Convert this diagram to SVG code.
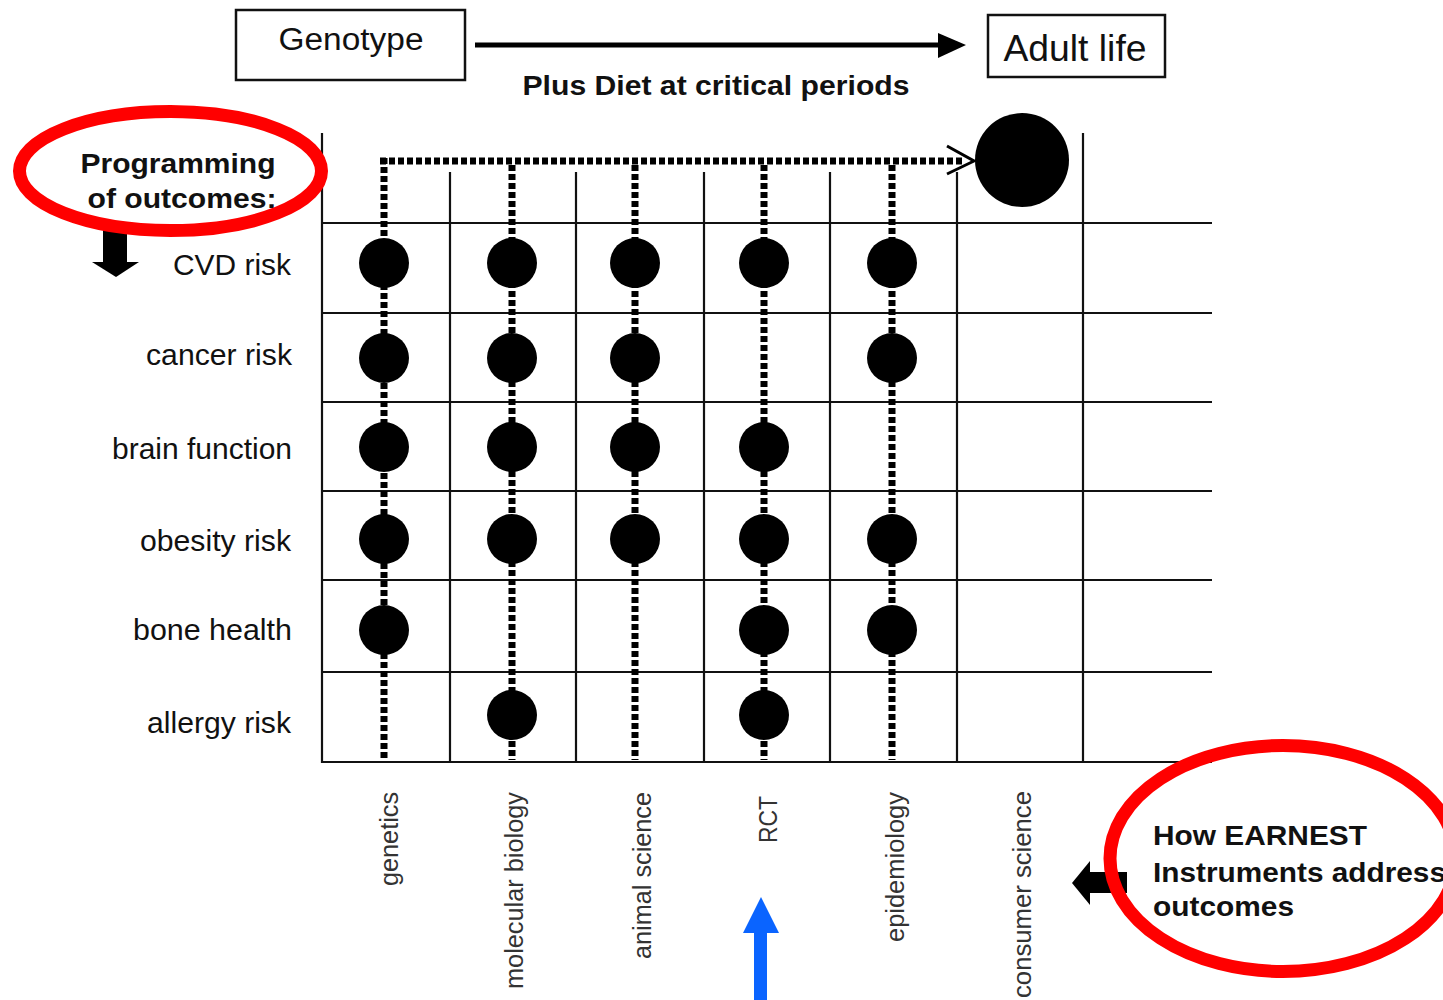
<svg xmlns="http://www.w3.org/2000/svg" width="1443" height="1000" viewBox="0 0 1443 1000">
<style>
  text { font-family: "Liberation Sans", Arial, sans-serif; fill: #111; }
  .box { fill: #fff; stroke: #111; stroke-width: 2.5; }
  .grid line { stroke: #111; stroke-width: 2.2; }
  .dot { stroke: #000; stroke-width: 7; stroke-dasharray: 6 3; fill: none; }
  .lbl { font-size: 29px; text-anchor: end; }
  .col { font-size: 26px; text-anchor: end; fill: #333; }
  .bold { font-weight: bold; }
  .red { fill: none; stroke: #ff0000; stroke-width: 13; }
</style>

<!-- Top boxes -->
<g id="genotype">
  <rect class="box" x="236" y="10" width="229" height="70"/>
  <text x="351" y="50" font-size="31" text-anchor="middle" textLength="145" lengthAdjust="spacingAndGlyphs">Genotype</text>
</g>
<g id="adult-life">
  <rect class="box" x="988" y="15" width="177" height="62"/>
  <text x="1075" y="61" font-size="36" text-anchor="middle" textLength="143" lengthAdjust="spacingAndGlyphs">Adult life</text>
</g>
<g id="diet-label">
  <text class="bold" x="716" y="95" font-size="28" text-anchor="middle" textLength="387" lengthAdjust="spacingAndGlyphs">Plus Diet at critical periods</text>
</g>

<!-- Grid -->
<g id="grid" class="grid">
  <line x1="322" y1="133" x2="322" y2="763"/>
  <line x1="450" y1="172" x2="450" y2="762"/>
  <line x1="576" y1="172" x2="576" y2="762"/>
  <line x1="704" y1="172" x2="704" y2="762"/>
  <line x1="830" y1="172" x2="830" y2="762"/>
  <line x1="957" y1="172" x2="957" y2="762"/>
  <line x1="1083" y1="133" x2="1083" y2="762"/>
  <line x1="321" y1="223" x2="1212" y2="223"/>
  <line x1="321" y1="313" x2="1212" y2="313"/>
  <line x1="321" y1="402" x2="1212" y2="402"/>
  <line x1="321" y1="491" x2="1212" y2="491"/>
  <line x1="321" y1="580" x2="1212" y2="580"/>
  <line x1="321" y1="672" x2="1212" y2="672"/>
  <line x1="321" y1="762" x2="1212" y2="762"/>
</g>

<!-- Connectors -->
<g id="connectors">
  <line x1="475" y1="45" x2="942" y2="45" stroke="#000" stroke-width="5"/>
  <polygon points="938,33 966,45 938,58" fill="#000"/>
  <line class="dot" x1="380" y1="161" x2="964" y2="161"/>
  <polyline points="947,146 974,161 947,174" fill="none" stroke="#000" stroke-width="3"/>
  <line class="dot" x1="384" y1="158" x2="384" y2="760"/>
  <line class="dot" x1="512" y1="165" x2="512" y2="760"/>
  <line class="dot" x1="635" y1="165" x2="635" y2="760"/>
  <line class="dot" x1="764" y1="165" x2="764" y2="760"/>
  <line class="dot" x1="892" y1="165" x2="892" y2="760"/>
  <!-- down arrow -->
  <rect x="103" y="228" width="24" height="36" fill="#000"/>
  <polygon points="92,262 139,262 116,277" fill="#000"/>
  <!-- left arrow -->
  <rect x="1087" y="872" width="40" height="21" fill="#000"/>
  <polygon points="1090,861 1090,905 1072,883" fill="#000"/>
  <!-- blue arrow -->
  <rect x="754" y="930" width="13" height="70" fill="#0a64ff"/>
  <polygon points="743,933 761,897 779,933" fill="#0a64ff"/>
</g>

<!-- Adult life outcome -->
<g id="adult-outcome">
  <circle cx="1022" cy="160" r="47" fill="#000"/>
</g>

<!-- Dots -->
<g id="dots" fill="#000">
  <circle cx="384" cy="263" r="25"/><circle cx="512" cy="263" r="25"/><circle cx="635" cy="263" r="25"/><circle cx="764" cy="263" r="25"/><circle cx="892" cy="263" r="25"/>
  <circle cx="384" cy="358" r="25"/><circle cx="512" cy="358" r="25"/><circle cx="635" cy="358" r="25"/><circle cx="892" cy="358" r="25"/>
  <circle cx="384" cy="447" r="25"/><circle cx="512" cy="447" r="25"/><circle cx="635" cy="447" r="25"/><circle cx="764" cy="447" r="25"/>
  <circle cx="384" cy="539" r="25"/><circle cx="512" cy="539" r="25"/><circle cx="635" cy="539" r="25"/><circle cx="764" cy="539" r="25"/><circle cx="892" cy="539" r="25"/>
  <circle cx="384" cy="630" r="25"/><circle cx="764" cy="630" r="25"/><circle cx="892" cy="630" r="25"/>
  <circle cx="512" cy="715" r="25"/><circle cx="764" cy="715" r="25"/>
</g>

<!-- Row labels -->
<g id="row-labels">
  <text class="lbl" x="291" y="275" textLength="118" lengthAdjust="spacingAndGlyphs">CVD risk</text>
  <text class="lbl" x="292" y="365" textLength="146" lengthAdjust="spacingAndGlyphs">cancer risk</text>
  <text class="lbl" x="292" y="459" textLength="180" lengthAdjust="spacingAndGlyphs">brain function</text>
  <text class="lbl" x="291" y="551" textLength="151" lengthAdjust="spacingAndGlyphs">obesity risk</text>
  <text class="lbl" x="292" y="640" textLength="159" lengthAdjust="spacingAndGlyphs">bone health</text>
  <text class="lbl" x="291" y="733" textLength="144" lengthAdjust="spacingAndGlyphs">allergy risk</text>
</g>

<!-- Column labels -->
<g id="column-labels">
  <text class="col" transform="translate(398,792) rotate(-90)" textLength="94" lengthAdjust="spacingAndGlyphs">genetics</text>
  <text class="col" transform="translate(523,792) rotate(-90)" textLength="197" lengthAdjust="spacingAndGlyphs">molecular biology</text>
  <text class="col" transform="translate(651,792) rotate(-90)" textLength="167" lengthAdjust="spacingAndGlyphs">animal science</text>
  <text class="col" transform="translate(777,796) rotate(-90)" textLength="47" lengthAdjust="spacingAndGlyphs">RCT</text>
  <text class="col" transform="translate(904,792) rotate(-90)" textLength="150" lengthAdjust="spacingAndGlyphs">epidemiology</text>
  <text class="col" transform="translate(1031,791) rotate(-90)" textLength="207" lengthAdjust="spacingAndGlyphs">consumer science</text>
</g>

<!-- Programming annotation -->
<g id="programming">
  <text class="bold" x="178" y="173" font-size="28" text-anchor="middle" textLength="195" lengthAdjust="spacingAndGlyphs">Programming</text>
  <text class="bold" x="182" y="208" font-size="28" text-anchor="middle" textLength="189" lengthAdjust="spacingAndGlyphs">of outcomes:</text>
  <ellipse class="red" cx="170.5" cy="171" rx="151" ry="59.5"/>
</g>

<!-- EARNEST annotation -->
<g id="earnest">
  <ellipse class="red" cx="1283" cy="858.5" rx="173" ry="113"/>
  <text class="bold" x="1153" y="845" font-size="28" textLength="214" lengthAdjust="spacingAndGlyphs">How EARNEST</text>
  <text class="bold" x="1153" y="882" font-size="28" textLength="293" lengthAdjust="spacingAndGlyphs">Instruments address</text>
  <text class="bold" x="1153" y="916" font-size="28" textLength="141" lengthAdjust="spacingAndGlyphs">outcomes</text>
</g>
</svg>
